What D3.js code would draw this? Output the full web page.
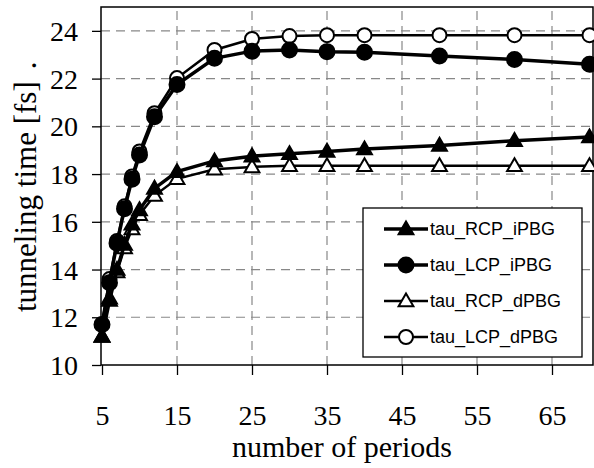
<!DOCTYPE html>
<html>
<head>
<meta charset="utf-8">
<script src="https://cdn.jsdelivr.net/npm/d3@7"></script>
<style>
  body { margin: 0; background: #fff; }
</style>
</head>
<body>
<div id="chart"></div>
<script>
// periods on the x axis
const periods = [5, 6, 7, 8, 9, 10, 12, 15, 20, 25, 30, 35, 40, 50, 60, 70];

// tunneling time [fs]
const tauRcpIpbg = [11.2, 12.7, 14.0, 15.05, 15.9, 16.5, 17.4, 18.1, 18.55, 18.75, 18.85, 18.95, 19.05, 19.2, 19.4, 19.55];
const tauLcpIpbg = [11.7, 13.45, 15.1, 16.55, 17.78, 18.8, 20.4, 21.75, 22.85, 23.15, 23.2, 23.13, 23.1, 22.95, 22.8, 22.6];
const tauRcpDpbg = [11.2, 12.8, 13.9, 14.9, 15.7, 16.3, 17.1, 17.8, 18.2, 18.3, 18.35, 18.35, 18.35, 18.35, 18.35, 18.35];
const tauLcpDpbg = [11.7, 13.6, 15.2, 16.65, 17.9, 18.95, 20.55, 22.02, 23.2, 23.66, 23.78, 23.82, 23.82, 23.82, 23.82, 23.82];

const xTicks = [5, 15, 25, 35, 45, 55, 65];
const yTicks = [10, 12, 14, 16, 18, 20, 22, 24];

const seriesNames = ["tau_RCP_iPBG", "tau_LCP_iPBG", "tau_RCP_dPBG", "tau_LCP_dPBG"];

const width = 594, height = 468;
const margin = { top: 7, right: 1, bottom: 103, left: 101 };

const series = [
  { name: seriesNames[0], values: tauRcpIpbg, shape: "triangle", filled: true, lw: 3.5 },
  { name: seriesNames[1], values: tauLcpIpbg, shape: "circle", filled: true, lw: 3.5 },
  { name: seriesNames[2], values: tauRcpDpbg, shape: "triangle", filled: false, lw: 2.5 },
  { name: seriesNames[3], values: tauLcpDpbg, shape: "circle", filled: false, lw: 2.5 },
];

const svg = d3.select("#chart").append("svg")
  .attr("width", width)
  .attr("height", height);

const x = d3.scaleLinear().domain([5, 70]).range([102, 589.5]);
const y = d3.scaleLinear().domain([10, 25]).range([height - margin.bottom, margin.top]);

const plotLeft = 101, plotRight = 593;
const serif = "Liberation Serif, Times New Roman, serif";
const sans = "Liberation Sans, Arial, sans-serif";

// grid lines
svg.append("g").selectAll("line")
  .data(yTicks.filter(d => d > 10))
  .join("line")
  .attr("x1", plotLeft).attr("x2", plotRight)
  .attr("y1", d => y(d)).attr("y2", d => y(d))
  .attr("stroke", "#888").attr("stroke-width", 1.2)
  .attr("stroke-dasharray", "9,6");

svg.append("g").selectAll("line")
  .data(xTicks.filter(d => d > 5))
  .join("line")
  .attr("x1", d => x(d)).attr("x2", d => x(d))
  .attr("y1", y(10)).attr("y2", y(25))
  .attr("stroke", "#888").attr("stroke-width", 1.2)
  .attr("stroke-dasharray", "9,6");

// frame
svg.append("path")
  .attr("d", `M${plotLeft},${y(10)}V${y(25)}H${plotRight}V${y(10)}Z`)
  .attr("fill", "none")
  .attr("stroke", "#000")
  .attr("stroke-width", 1.5);

// axes
const yAxis = svg.append("g")
  .attr("transform", `translate(${plotLeft},0)`)
  .call(d3.axisLeft(y).tickValues(yTicks).tickSize(9).tickPadding(14));
const xAxis = svg.append("g")
  .attr("transform", `translate(0,${y(10)})`)
  .call(d3.axisBottom(x).tickValues(xTicks).tickSize(10).tickPadding(30));

[xAxis, yAxis].forEach(g => {
  g.select(".domain").remove();
  g.selectAll(".tick line").attr("stroke", "#000").attr("stroke-width", 1.3);
  g.selectAll(".tick text")
    .attr("fill", "#000")
    .style("font-family", serif)
    .style("font-size", "28px");
});
yAxis.selectAll(".tick text").attr("dy", "0.34em");

// axis titles
svg.append("text")
  .attr("x", 342).attr("y", 457)
  .attr("text-anchor", "middle")
  .style("font-family", serif)
  .style("font-size", "30px")
  .text("number of periods");

const yTitle = svg.append("text")
  .attr("transform", "translate(36,312) rotate(-90)")
  .attr("text-anchor", "start")
  .style("font-family", serif)
  .style("font-size", "31px");
yTitle.append("tspan").text("tunneling time [fs]");
yTitle.append("tspan").attr("dx", 12).text(".");

// series
const line = d3.line()
  .x(d => x(d[0]))
  .y(d => y(d[1]));

svg.append("clipPath").attr("id", "clip")
  .append("rect").attr("x", 0).attr("y", 0).attr("width", width).attr("height", height);

function drawMarker(g, s, cx, cy) {
  const fill = s.filled ? "#000" : "#fff";
  if (s.shape === "circle") {
    g.append("circle")
      .attr("cx", cx).attr("cy", cy)
      .attr("r", s.filled ? 7.5 : 7)
      .attr("fill", fill)
      .attr("stroke", "#000")
      .attr("stroke-width", 2);
  } else {
    g.append("path")
      .attr("d", d3.symbol(d3.symbolTriangle, 95)())
      .attr("transform", `translate(${cx},${cy + 1})`)
      .attr("fill", fill)
      .attr("stroke", "#000")
      .attr("stroke-width", 2);
  }
}

// draw dPBG first, then iPBG on top
[2, 3, 0, 1].forEach(i => {
  const s = series[i];
  const pts = periods.map((p, j) => [p, s.values[j]]);
  const g = svg.append("g").attr("clip-path", "url(#clip)");
  g.append("path")
    .datum(pts)
    .attr("d", line)
    .attr("fill", "none")
    .attr("stroke", "#000")
    .attr("stroke-width", s.lw);
  pts.forEach(d => drawMarker(g, s, x(d[0]), y(d[1])));
});

// legend
const legend = svg.append("g");
legend.append("rect")
  .attr("x", 363).attr("y", 208)
  .attr("width", 219).attr("height", 149)
  .attr("fill", "#fff")
  .attr("stroke", "#000")
  .attr("stroke-width", 1.3);

const legendY = [229, 265, 301, 337];
series.forEach((s, i) => {
  const ly = legendY[i];
  legend.append("line")
    .attr("x1", 384).attr("x2", 428)
    .attr("y1", ly).attr("y2", ly)
    .attr("stroke", "#000")
    .attr("stroke-width", s.lw);
  drawMarker(legend, s, 406, ly);
  legend.append("text")
    .attr("x", 430).attr("y", ly)
    .attr("dy", "0.35em")
    .style("font-family", sans)
    .style("font-size", "18px")
    .text(s.name);
});
</script>
</body>
</html>
